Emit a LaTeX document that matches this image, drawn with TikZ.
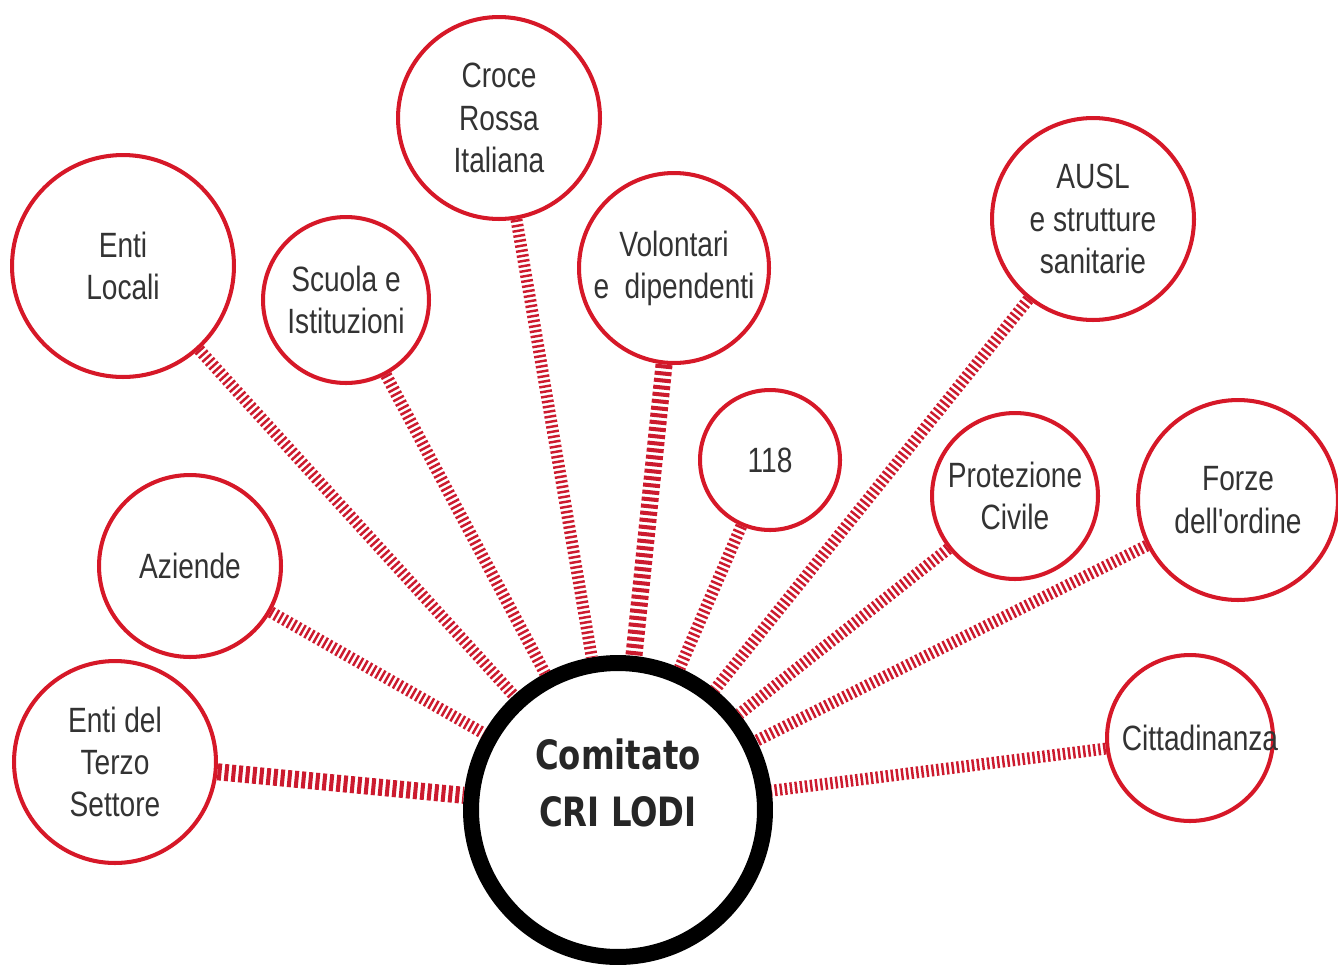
\documentclass[tikz,border=0pt]{standalone}
\usepackage{fontspec}
\newfontfamily\narrowfont[FakeStretch=0.8]{Liberation Sans}
\newfontfamily\crifont[FakeStretch=0.8]{DejaVu Sans}
\definecolor{crired}{RGB}{214,24,40}
\definecolor{linkred}{RGB}{204,26,46}
\tikzset{
	ente/.style={circle, draw=crired, line width=2.3pt, inner sep=0pt, align=center, text=black!80, font=\narrowfont\fontsize{20}{24}\selectfont},
	legame/.style={draw=linkred, line width=6.8pt, dash pattern=on 1.4pt off 1.5pt},
	legameforte/.style={legame, line width=9.7pt, dash pattern=on 2.3pt off 1.7pt}
}
\begin{document}
\begin{tikzpicture}[x=0.02cm, y=-0.02cm]
				\useasboundingbox (0,0) rectangle (1338,964);
				\node[circle, draw=black, line width=9.1pt, minimum size=5.88cm, inner sep=0pt] (cri) at (618,810) {};
				\node[align=center, text=black!85, font=\crifont\bfseries\fontsize{23}{32}\selectfont] (critext) at (618,783) {Comitato\\CRI LODI};
				\node[ente, minimum size=4.04cm] (croce) at (499,118) {Croce\\Rossa\\Italiana};
				\node[ente, minimum size=4.44cm] (locali) at (123,266) {Enti\\Locali};
				\node[ente, minimum size=3.32cm] (scuola) at (346,300) {Scuola e\\Istituzioni};
				\node[ente, minimum size=3.8cm] (volontari) at (674,268) {Volontari\\e\ \ dipendenti};
				\node[ente, minimum size=2.8cm] (centodiciotto) at (770,460) {118};
				\node[ente, minimum size=4.04cm] (ausl) at (1093,219) {AUSL\\e strutture\\sanitarie};
				\node[ente, minimum size=3.32cm] (protezione) at (1015,496) {Protezione\\Civile};
				\node[ente, minimum size=4.0cm] (forze) at (1238,500) {Forze\\dell'ordine};
				\node[ente, minimum size=3.64cm] (aziende) at (190,566) {Aziende};
				\node[ente, minimum size=4.04cm] (terzo) at (115,762) {Enti del\\Terzo\\Settore};
				\node[ente, minimum size=3.32cm] (citta) at (1190,738) {\makebox[0pt]{\hspace*{0.4cm}Cittadinanza}};
				\draw[legameforte] (terzo) -- (cri);
				\draw[legameforte] (volontari) -- (cri);
				\draw[legame] (aziende) -- (cri);
				\draw[legame] (locali) -- (cri);
				\draw[legame] (scuola) -- (cri);
				\draw[legame] (croce) -- (cri);
				\draw[legame] (centodiciotto) -- (cri);
				\draw[legame] (ausl) -- (cri);
				\draw[legame] (protezione) -- (cri);
				\draw[legame] (forze) -- (cri);
				\draw[legame] (citta) -- (cri);
			\end{tikzpicture}
\end{document}
